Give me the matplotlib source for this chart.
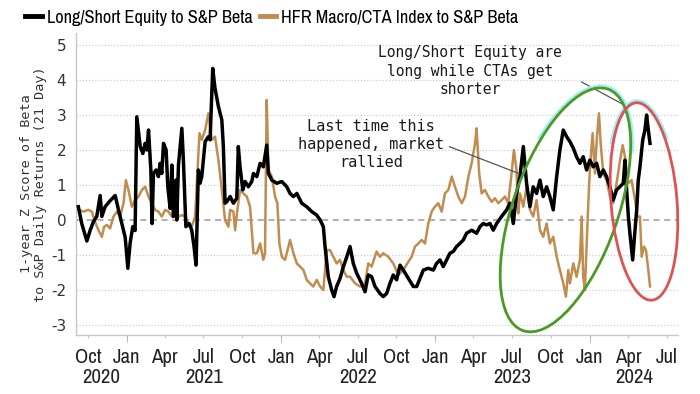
import matplotlib
matplotlib.use("Agg")
import matplotlib.pyplot as plt
import matplotlib.dates as mdates
from matplotlib import font_manager
from matplotlib.font_manager import FontProperties
from matplotlib.patches import Ellipse, Arc
from matplotlib.transforms import ScaledTranslation
import numpy as np
import pandas as pd

# dates as decimal years
ls_t = [2020.687, 2020.709, 2020.742, 2020.763, 2020.784, 2020.806, 2020.828, 2020.839, 2020.860, 2020.892,
        2020.925, 2020.946, 2020.968, 2020.990, 2021.007, 2021.022, 2021.039, 2021.054, 2021.065, 2021.087,
        2021.104, 2021.119, 2021.130, 2021.141, 2021.156, 2021.164, 2021.173, 2021.190, 2021.205, 2021.216,
        2021.227, 2021.238, 2021.255, 2021.266, 2021.281, 2021.292, 2021.302, 2021.318, 2021.324, 2021.335,
        2021.357, 2021.367, 2021.383, 2021.404, 2021.421, 2021.436, 2021.449, 2021.464, 2021.475, 2021.486,
        2021.508, 2021.529, 2021.540, 2021.557, 2021.572, 2021.594, 2021.616, 2021.626, 2021.637, 2021.648,
        2021.670, 2021.691, 2021.713, 2021.723, 2021.734, 2021.752, 2021.767, 2021.788, 2021.810, 2021.821,
        2021.843, 2021.864, 2021.885, 2021.907, 2021.918, 2021.940, 2021.972, 2022.005, 2022.037, 2022.058,
        2022.080, 2022.102, 2022.134, 2022.166, 2022.199, 2022.231, 2022.253, 2022.274, 2022.285, 2022.306,
        2022.328, 2022.343, 2022.360, 2022.382, 2022.404, 2022.426, 2022.447, 2022.468, 2022.490, 2022.522,
        2022.544, 2022.565, 2022.587, 2022.609, 2022.641, 2022.662, 2022.684, 2022.706, 2022.727, 2022.749,
        2022.771, 2022.792, 2022.825, 2022.857, 2022.879, 2022.900, 2022.922, 2022.954, 2022.987, 2023.008,
        2023.030, 2023.051, 2023.073, 2023.094, 2023.116, 2023.137, 2023.159, 2023.181, 2023.202, 2023.235,
        2023.267, 2023.289, 2023.310, 2023.332, 2023.354, 2023.375, 2023.397, 2023.429, 2023.462, 2023.483,
        2023.505, 2023.526, 2023.548, 2023.570, 2023.591, 2023.613, 2023.634, 2023.656, 2023.678, 2023.699,
        2023.721, 2023.742, 2023.764, 2023.786, 2023.807, 2023.829, 2023.851, 2023.872, 2023.894, 2023.915,
        2023.937, 2023.958, 2023.980, 2024.001, 2024.023, 2024.045, 2024.066, 2024.088, 2024.109, 2024.131,
        2024.152, 2024.174, 2024.195, 2024.217, 2024.228, 2024.239, 2024.250, 2024.260, 2024.278, 2024.293,
        2024.304, 2024.314, 2024.325, 2024.343, 2024.357, 2024.368, 2024.379, 2024.390]
ls_v = [0.38, -0.10, -0.60, -0.30, -0.05, 0.10, 0.70, 0.10, 0.38, 0.55,
        0.70, 0.30, -0.10, -0.50, -1.38, -0.65, -0.19, -0.30, 2.95, 2.10,
        1.90, 2.19, 2.00, 2.57, 1.43, -0.10, 1.33, 1.43, 1.24, 1.62,
        1.33, 2.19, 2.00, 0.95, 0.33, 1.57, 0.10, 1.14, 0.00, 1.57,
        2.62, 1.71, -0.19, -0.10, -0.29, -0.76, -1.29, 1.43, 1.05, 1.24,
        2.24, 2.38, 2.29, 4.33, 3.76, 3.24, 2.86, 2.10, 0.48, 0.52,
        0.67, 0.48, 0.62, 2.10, 1.52, 0.86, 1.10, 0.95, 1.10, 1.33,
        1.24, 1.62, 1.52, 2.14, 1.33, 1.14, 1.05, 1.10, 0.95, 0.76,
        0.67, 0.76, 0.48, 0.38, 0.24, 0.14, 0.00, -0.19, -0.76, -1.62,
        -2.00, -2.19, -1.90, -1.67, -1.33, -1.05, -0.76, -1.24, -1.52, -1.81,
        -2.05, -1.57, -1.62, -1.90, -2.10, -2.19, -2.10, -1.81, -1.57, -1.71,
        -1.29, -1.43, -1.67, -1.90, -1.90, -1.67, -1.43, -1.38, -1.43, -1.24,
        -1.14, -1.33, -1.14, -0.95, -0.90, -0.76, -0.67, -0.57, -0.38, -0.29,
        -0.38, -0.19, -0.10, -0.14, -0.10, -0.29, -0.10, 0.10, 0.29, 0.48,
        -0.10, 0.76, 1.24, 2.10, 1.05, 0.38, 0.95, 0.76, 1.14, 0.67,
        0.95, 0.67, 0.29, 1.24, 2.00, 2.57, 2.38, 2.24, 2.05, 1.81,
        1.62, 1.81, 1.43, 1.71, 1.52, 1.62, 1.24, 1.43, 1.24, 0.95,
        0.57, 0.86, 0.95, 1.05, 1.71, 0.86, 0.10, -0.38, -1.14, -0.29,
        0.29, 1.14, 1.52, 2.29, 2.57, 3.00, 2.57, 2.19]

cta_t = [2020.687, 2020.720, 2020.752, 2020.774, 2020.795, 2020.817, 2020.839, 2020.854, 2020.871, 2020.892,
         2020.914, 2020.936, 2020.957, 2020.979, 2020.994, 2021.011, 2021.033, 2021.054, 2021.076, 2021.098,
         2021.119, 2021.141, 2021.162, 2021.184, 2021.205, 2021.227, 2021.249, 2021.270, 2021.292, 2021.313,
         2021.335, 2021.357, 2021.378, 2021.400, 2021.421, 2021.443, 2021.471, 2021.486, 2021.508, 2021.529,
         2021.551, 2021.572, 2021.594, 2021.616, 2021.637, 2021.659, 2021.670, 2021.691, 2021.702, 2021.717,
         2021.734, 2021.756, 2021.778, 2021.799, 2021.821, 2021.843, 2021.864, 2021.885, 2021.896, 2021.907,
         2021.918, 2021.940, 2021.961, 2021.976, 2021.989, 2022.005, 2022.026, 2022.048, 2022.058, 2022.080,
         2022.102, 2022.123, 2022.145, 2022.166, 2022.188, 2022.209, 2022.231, 2022.253, 2022.274, 2022.296,
         2022.317, 2022.339, 2022.360, 2022.382, 2022.404, 2022.426, 2022.447, 2022.479, 2022.512, 2022.544,
         2022.565, 2022.587, 2022.619, 2022.641, 2022.662, 2022.695, 2022.727, 2022.760, 2022.792, 2022.825,
         2022.846, 2022.868, 2022.890, 2022.911, 2022.933, 2022.954, 2022.976, 2022.997, 2023.019, 2023.041,
         2023.062, 2023.084, 2023.106, 2023.127, 2023.149, 2023.171, 2023.192, 2023.214, 2023.235, 2023.257,
         2023.267, 2023.284, 2023.300, 2023.321, 2023.343, 2023.365, 2023.386, 2023.408, 2023.429, 2023.451,
         2023.472, 2023.494, 2023.509, 2023.526, 2023.537, 2023.548, 2023.570, 2023.591, 2023.613, 2023.634,
         2023.656, 2023.678, 2023.699, 2023.721, 2023.742, 2023.764, 2023.786, 2023.807, 2023.829, 2023.846,
         2023.861, 2023.872, 2023.894, 2023.915, 2023.937, 2023.948, 2023.958, 2023.969, 2023.991, 2024.001,
         2024.019, 2024.034, 2024.047, 2024.060, 2024.071, 2024.088, 2024.109, 2024.131, 2024.152, 2024.174,
         2024.195, 2024.213, 2024.228, 2024.239, 2024.250, 2024.271, 2024.293, 2024.308, 2024.325, 2024.336,
         2024.351, 2024.364, 2024.379, 2024.390]
cta_v = [0.29, 0.24, 0.29, 0.24, -0.05, -0.29, -0.48, -0.19, -0.14, -0.24,
         0.10, 0.24, 0.10, 0.48, 1.14, 0.86, 0.38, 0.57, 0.67, 0.86,
         0.95, 0.67, 0.48, 0.29, 0.24, 0.10, 0.29, 0.24, 0.10, 0.29,
         0.10, 0.14, 0.10, -0.10, -0.19, 0.10, 2.48, 2.29, 2.57, 3.05,
         2.29, 2.38, 1.71, 0.86, 0.00, -0.19, 0.29, 0.24, -0.29, 0.29,
         0.86, 0.76, 0.67, 0.38, -0.95, -0.95, -0.67, -1.14, -0.95, 3.43,
         1.43, 1.24, 0.67, 0.48, -0.67, -1.05, -1.14, -0.76, -0.57, -0.95,
         -1.24, -1.33, -1.43, -1.71, -1.81, -1.90, -1.71, -1.90, -2.00, -0.86,
         -0.86, -1.05, -1.24, -1.14, -1.43, -1.62, -1.62, -1.81, -1.90, -1.81,
         -1.24, -1.33, -0.90, -1.05, -0.95, -1.05, -1.24, -1.57, -1.43, -1.19,
         -1.05, -0.76, -0.67, -0.57, -0.67, -0.10, 0.24, 0.38, 0.48, 0.24,
         0.76, 0.86, 1.24, 0.95, 0.67, 0.48, 0.67, 1.24, 1.62, 2.19,
         2.62, 1.33, 0.76, 0.86, 0.67, 0.52, 0.62, 0.48, 0.57, 0.67,
         0.48, 1.33, 2.00, 1.43, 0.19, 0.76, 0.38, 0.95, 0.29, 0.10,
         0.57, -0.29, -0.48, -0.10, -0.67, -0.48, -1.05, -1.43, -1.81, -2.19,
         -1.43, -1.81, -1.24, -1.62, -1.14, 0.10, -1.62, -2.00, 0.48, 1.43,
         2.48, 1.33, 2.38, 3.05, 2.19, 1.33, 1.14, 0.67, 0.48, 1.05,
         1.67, 2.14, 1.81, 1.33, 1.05, 1.14, 0.57, 0.10, 0.10, -1.05,
         -0.76, -0.86, -1.43, -1.90]

legend_labels = ['Long/Short Equity to S&P Beta', 'HFR Macro/CTA Index to S&P Beta']
y_ticks = [5, 4, 3, 2, 1, 0, -1, -2, -3]
years = [2020, 2021, 2022, 2023, 2024]
note_ls = 'Long/Short Equity are\nlong while CTAs get\nshorter'
note_rally = 'Last time this\nhappened, market\nrallied'

plt.rcParams['axes.unicode_minus'] = False


def to_date(t):
    y = int(t)
    start = pd.Timestamp(year=y, month=1, day=1)
    ndays = 366 if y % 4 == 0 else 365
    return start + pd.Timedelta(days=(t - y) * ndays)


ls_dates = [to_date(t) for t in ls_t]
cta_dates = [to_date(t) for t in cta_t]


# look for a narrow sans face for the Bloomberg-style legend and dates
def find_narrow():
    best = None
    for f in font_manager.fontManager.ttflist:
        nm = f.name.lower()
        fn = f.fname.lower()
        if 'mono' in nm or 'serif' in nm or f.style != 'normal':
            continue
        if f.weight not in (400, 'normal', 'regular'):
            continue
        if 'narrow' in nm or 'narrow' in fn:
            return f.fname
        if f.stretch in ('condensed', 'semi-condensed') or 'condensed' in fn:
            if 'extra' in fn or 'ultra' in fn or 'semi' in fn:
                continue
            best = best or f.fname
    return best


narrow_path = find_narrow()
if narrow_path:
    cond_prop = lambda s: FontProperties(fname=narrow_path, size=s)
    leg_size, xt_size = 13.2, 15
else:
    cond_prop = lambda s: FontProperties(family='DejaVu Sans Mono', size=s)
    leg_size, xt_size = 9.7, 11.5
mono = 'DejaVu Sans Mono'

fig = plt.figure(figsize=(7, 3.94), dpi=100)
ax = fig.add_axes([0.1086, 0.1497, 0.86, 0.7665])

l_cta, = ax.plot(cta_dates, cta_v, color='#c08c50', lw=1.8, zorder=3)
l_ls, = ax.plot(ls_dates, ls_v, color='black', lw=2.5, zorder=4)

x0, x1 = to_date(2020.672), to_date(2024.571)
ax.set_xlim(x0, x1)
ax.set_ylim(-3.286, 5.343)

# grid
for v in y_ticks:
    if v == 0:
        ax.axhline(v, color='#9a9a9a', lw=1.1, ls=(0, (4, 3)), zorder=1)
    else:
        ax.axhline(v, color='#d0d0d0', lw=0.9, ls=(0, (1, 1.5)), zorder=1)

ax.set_yticks(y_ticks)
ax.tick_params(axis='y', length=0, pad=7, labelsize=11, labelcolor='#333333')
for lab in ax.get_yticklabels():
    lab.set_family('DejaVu Sans')

ax.xaxis.set_major_locator(mdates.MonthLocator([1, 4, 7, 10]))
ax.xaxis.set_major_formatter(mdates.DateFormatter('%b'))
ax.xaxis.set_minor_locator(mdates.YearLocator())
ax.xaxis.remove_overlapping_locs = False
ax.tick_params(axis='x', which='major', length=2, color='#c8c8c8', pad=7,
               labelcolor='#222222')
ax.tick_params(axis='x', which='minor', length=5, color='#b0b0b0')
for lab in ax.get_xticklabels():
    lab.set_fontproperties(cond_prop(xt_size))

# year labels centred under the visible part of each year
for yr in years:
    a = max(pd.Timestamp(year=yr, month=1, day=1), x0)
    b = min(pd.Timestamp(year=yr + 1, month=1, day=1), x1)
    mid = a + (b - a) / 2
    ax.text(mid, -0.142, str(yr), transform=ax.get_xaxis_transform(), ha='center', va='center',
            fontproperties=cond_prop(xt_size), color='#222222')

for s in ['top', 'right']:
    ax.spines[s].set_visible(False)
for s in ['left', 'bottom']:
    ax.spines[s].set_color('#c8c8c8')
    ax.spines[s].set_linewidth(1.0)

ax.set_ylabel('1-year Z Score of Beta\nto S&P Daily Returns (21 Day)', family=mono,
              fontsize=9.7, color='#333333', labelpad=3, linespacing=1.05)

leg = fig.legend([l_ls, l_cta], legend_labels, loc='upper left', bbox_to_anchor=(0.018, 1.008),
                 ncol=2, frameon=False, handlelength=0.9, handletextpad=0.25, columnspacing=0.4,
                 borderpad=0.2, prop=cond_prop(leg_size))
for h in leg.get_lines():
    h.set_linewidth(3.5)

# annotations
ax.annotate(note_rally, xy=(to_date(2023.535), 1.34), xytext=(0.49, 0.715),
            textcoords='axes fraction', ha='center', va='top', family=mono, fontsize=11,
            color='#1a1a1a', linespacing=1.25, zorder=6,
            arrowprops=dict(arrowstyle='-', color='#555555', lw=0.9, relpos=(1.0, 0.5),
                            shrinkA=2, shrinkB=0))
ax.annotate(note_ls, xy=(to_date(2024.247), 3.23), xytext=(0.654, 0.96),
            textcoords='axes fraction', ha='center', va='top', family=mono, fontsize=10.5,
            color='#1a1a1a', linespacing=1.3, zorder=6,
            arrowprops=dict(arrowstyle='-', color='#555555', lw=0.9, relpos=(1.0, 0.5),
                            shrinkA=14, shrinkB=0))


# hand-drawn style ellipses (sized in inches so they keep their shape)
def ring(cx, cy, w, h, ang, color, glow_from, glow_to):
    tr = fig.dpi_scale_trans + ScaledTranslation(mdates.date2num(to_date(cx)), cy, ax.transData)
    ax.add_patch(Arc((0, 0), w + 0.03, h + 0.03, angle=ang, theta1=glow_from, theta2=glow_to,
                     color='#a6ecf6', lw=3.0, transform=tr, clip_on=False, zorder=7))
    ax.add_patch(Ellipse((0, 0), w, h, angle=ang, fill=False, edgecolor=color, lw=2.0,
                         transform=tr, clip_on=False, zorder=8))


ring(2023.843, 0.29, 2.56, 1.05, 70.6, '#4c9a26', -30, 40)
ring(2024.351, 0.53, 1.98, 0.66, 94.6, '#d95454', -25, 25)

fig.savefig('out.png', dpi=100)
